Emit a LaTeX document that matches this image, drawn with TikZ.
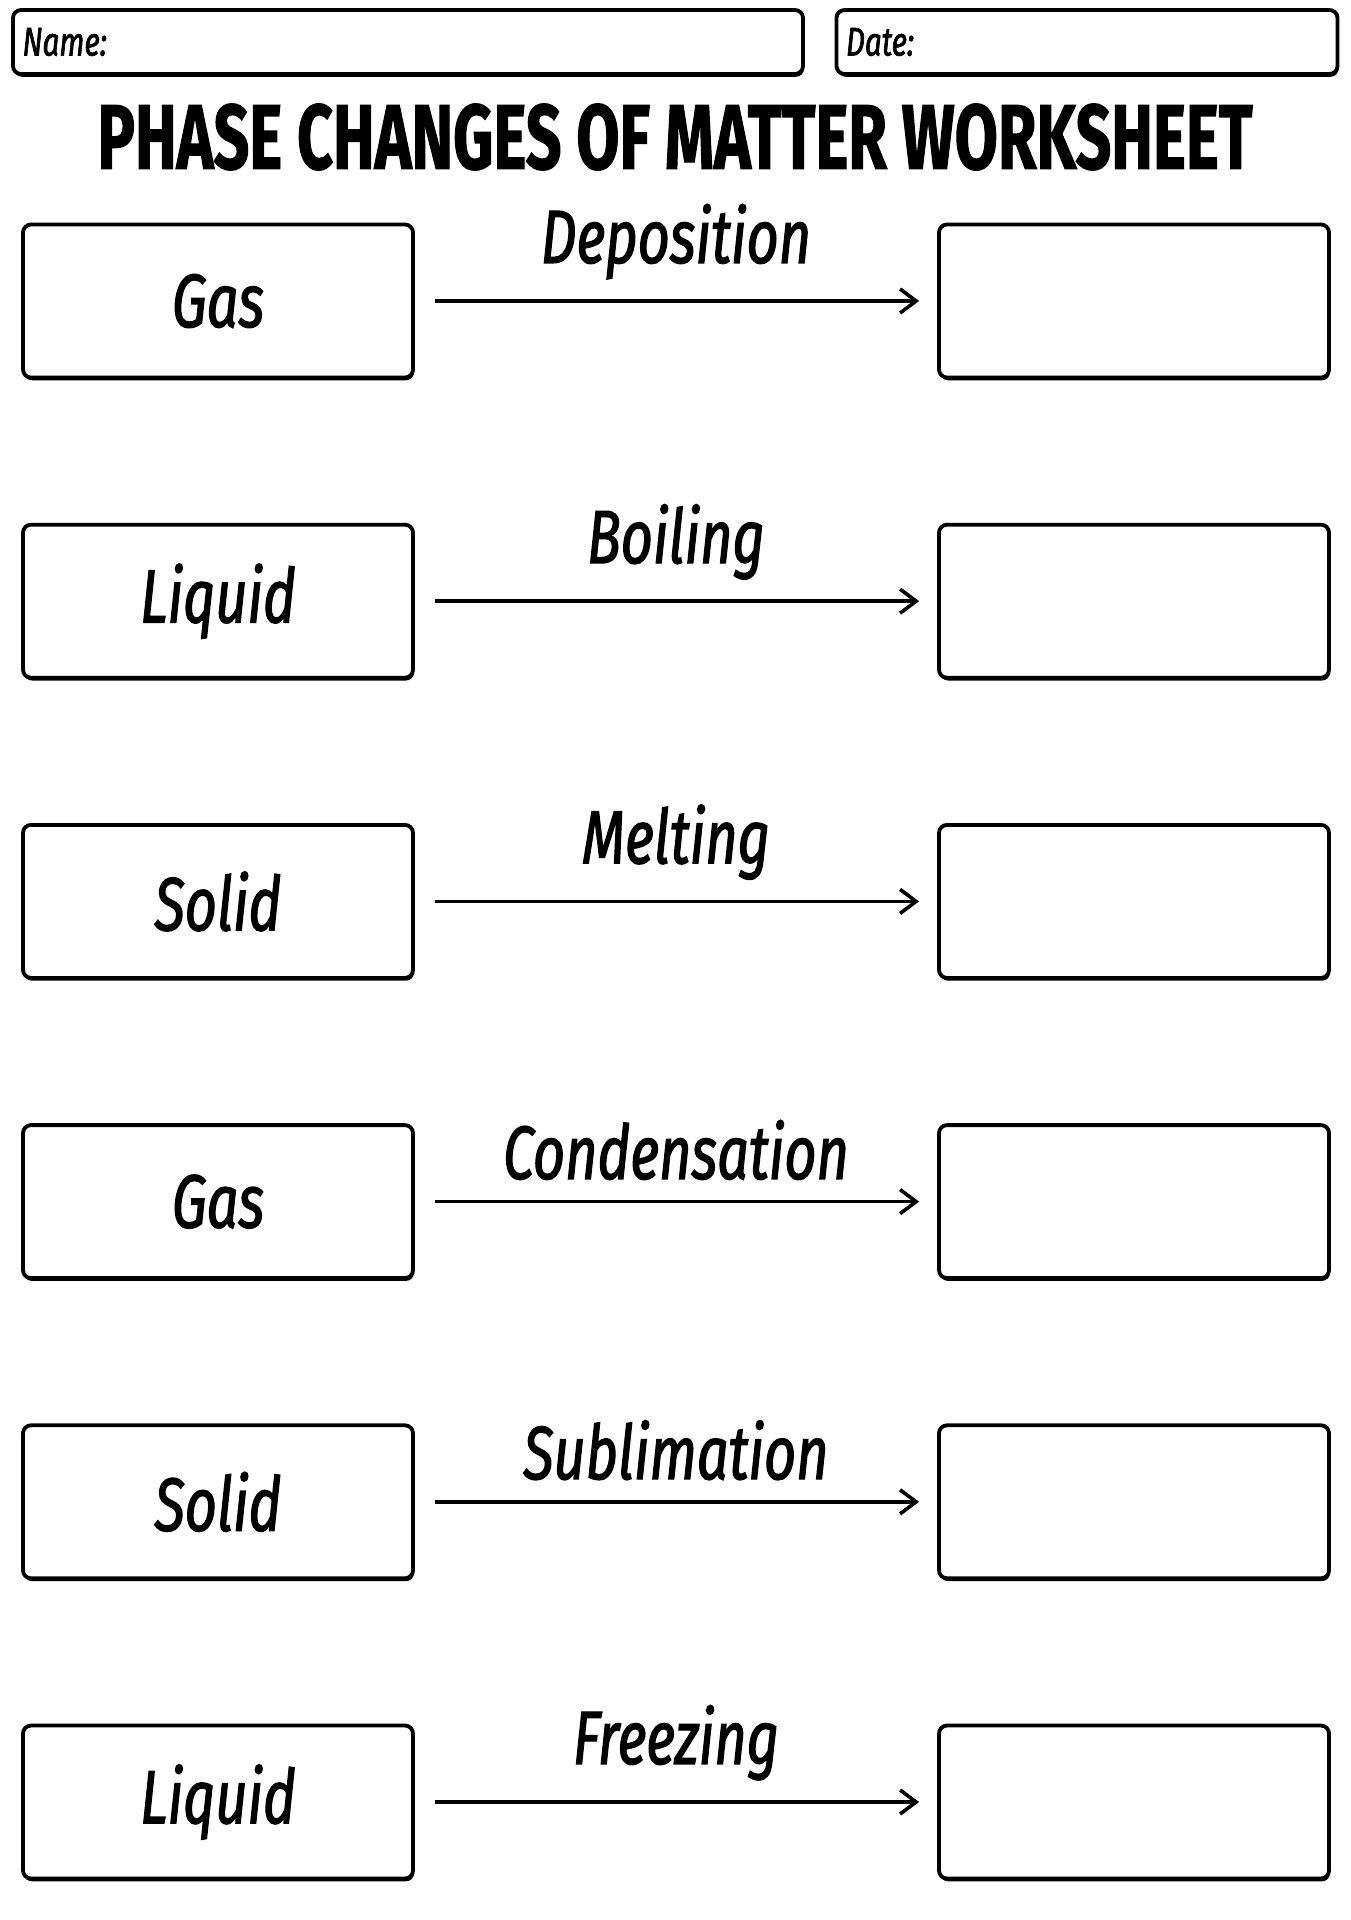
\documentclass[tikz,border=0pt]{standalone}
\usepackage{fontspec}
\usepackage{graphicx}
\setmainfont{Fira Sans}
\newfontfamily\handfont[FakeStretch=0.74,FakeBold=1.6]{Fira Sans}
\newfontfamily\titlefont[FakeBold=1.5]{Fira Sans}
\usetikzlibrary{arrows.meta,shadows,positioning}
\tikzset{
  box/.style={draw,line width=1.9pt,rounded corners=4pt,fill=white,
    drop shadow={shadow xshift=0.5pt,shadow yshift=-1.4pt,opacity=1,fill=black}},
  phase/.style={box,minimum width=195pt,minimum height=76.5pt,inner sep=0pt},
  hand/.style={font=\handfont\itshape\fontsize{37.7}{40}\selectfont,inner sep=0pt},
  small/.style={font=\handfont\itshape\fontsize{20}{22}\selectfont,inner sep=0pt},
  change/.style={line width=1.8pt,-{Straight Barb[length=8pt,width=12pt]},
    shorten <=10pt,shorten >=9pt},
}
\begin{document}
\begin{tikzpicture}[x=0.5pt,y=-0.5pt]
\useasboundingbox(0,0)rectangle(1350,1920);
\node[box,minimum width=395pt,minimum height=32pt] (namebox) at (408,42) {};
\node[box,minimum width=250.5pt,minimum height=32pt] (datebox) at (1087,42) {};
\node[small,anchor=west,xshift=5.5pt] (name) at (namebox.west) {Name:};
\node[small,anchor=west,xshift=5.5pt] (date) at (datebox.west) {Date:};
\node (title) at (675,137) {\resizebox{577.5pt}{32.5pt}{\titlefont\bfseries PHASE CHANGES OF MATTER WORKSHEET}};
%
\foreach \i/\from/\chg in {1/Gas/Deposition,2/Liquid/Boiling,3/Solid/Melting,4/Gas/Condensation,5/Solid/Sublimation,6/Liquid/Freezing}{
  \pgfmathsetmacro{\y}{301+300.2*(\i-1)}
  \node[phase,hand] (from\i) at (218,\y) {\from};
  \node[phase] (to\i) at (1134,\y) {};
  \draw[change] (from\i) -- (to\i) node[midway,above=10pt,hand]{\chg};
}
\end{tikzpicture}
\end{document}
